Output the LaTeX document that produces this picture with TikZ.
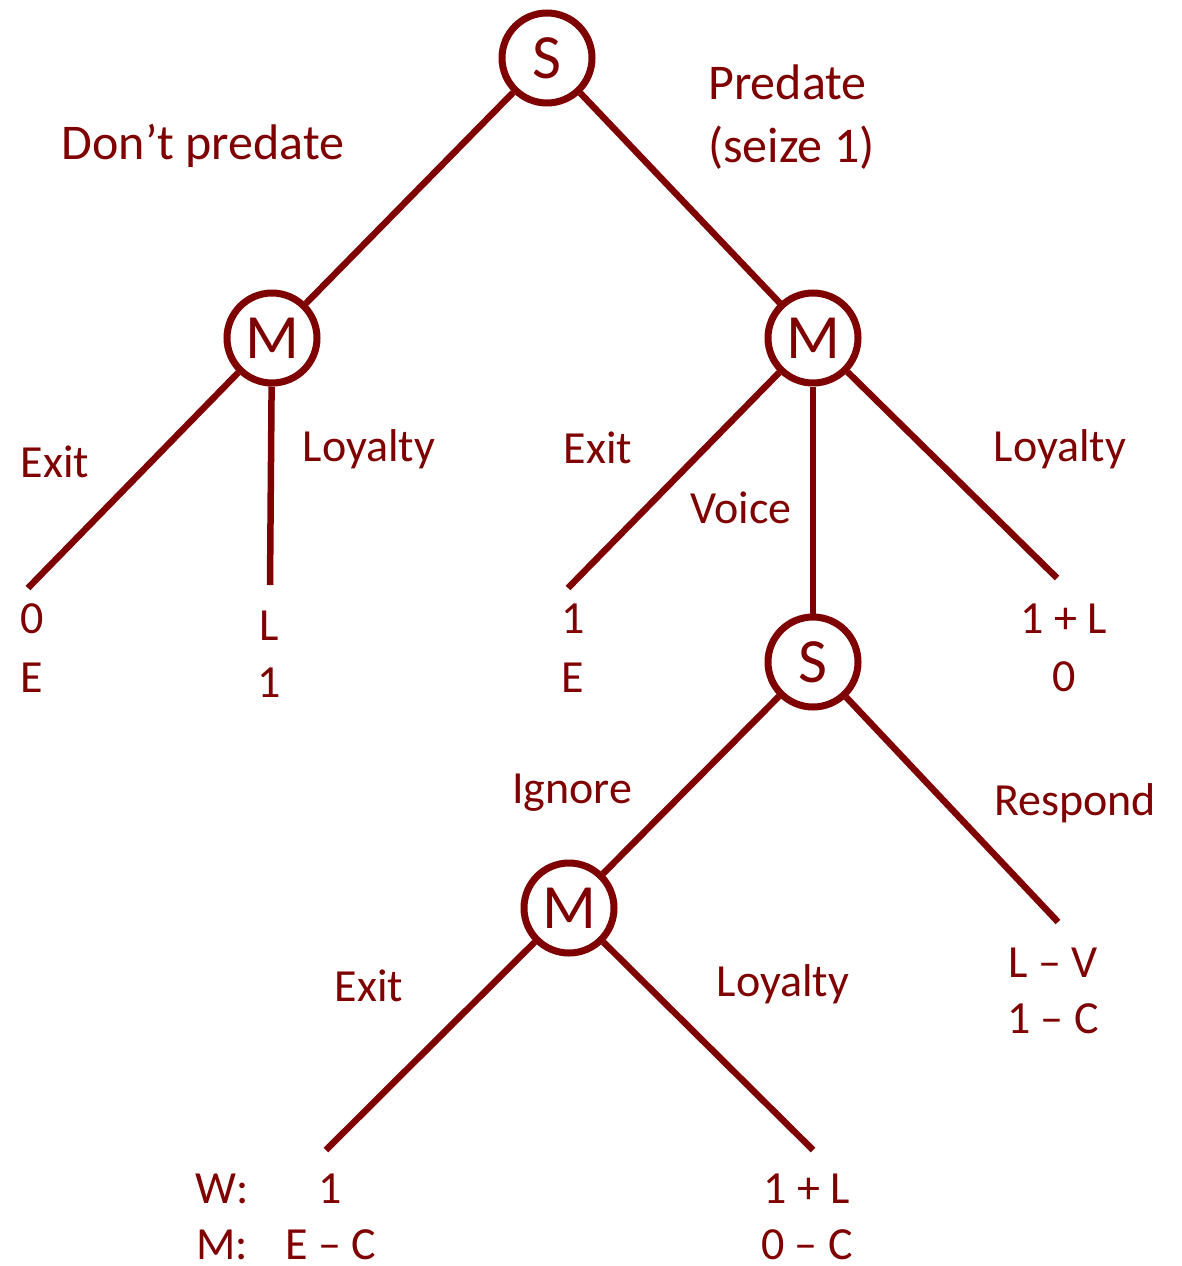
\documentclass[tikz,border=0pt]{standalone}
\usepackage{fontspec}
\setmainfont{Carlito}
\usepackage{tikz}
\usetikzlibrary{shapes,arrows}
\definecolor{maroon}{HTML}{7F0000}
\newcommand\bigtxt{\fontsize{50}{56}\selectfont}
\newcommand\midtxt{\fontsize{46}{52}\selectfont}
\newcommand\nodetxt{\fontsize{63}{70}\selectfont}

\begin{document}
\begin{tikzpicture}[x=1pt,y=-1pt,
  player/.style={circle,draw=maroon,line width=7pt,fill=white,minimum size=90pt,inner sep=0pt,text=maroon,font=\nodetxt},
  lbl/.style={text=maroon,font=\midtxt,anchor=base,inner sep=0pt},
  branch/.style={draw=maroon,line width=6.5pt}]
\useasboundingbox (0,0) rectangle (1181,1266);

% to place end points of the branches
\coordinate (e1) at (28,588);
\coordinate (l1) at (270,585);
\coordinate (e2) at (568,588);
\coordinate (l2) at (1057,578);
\coordinate (r3) at (1058,922);
\coordinate (e4) at (326,1150);
\coordinate (l4) at (813,1150);

% to draw the players
\node [player] (S1) at (547,58) {S};
\node [player] (M1) at (272,338) {M};
\node [player] (M2) at (813,338) {M};
\node [player] (S2) at (813,662) {S};
\node [player] (M3) at (569,908) {M};

% to draw the branches
\draw [branch] (S1) -- (M1);
\draw [branch] (S1) -- (M2);
\draw [branch] (M1) -- (e1);
\draw [branch] (M1) -- (l1);
\draw [branch] (M2) -- (e2);
\draw [branch] (M2) -- (S2);
\draw [branch] (M2) -- (l2);
\draw [branch] (S2) -- (M3);
\draw [branch] (S2) -- (r3);
\draw [branch] (M3) -- (e4);
\draw [branch] (M3) -- (l4);

% to write the moves
\node [lbl,font=\bigtxt] (dp) at (203,159) {Don't predate};
\node [lbl,font=\bigtxt,anchor=base west] (pr) at (708,99) {Predate};
\node [lbl,font=\bigtxt,anchor=base west] (sz) at (708,162) {(seize 1)};
\node [lbl] (x1) at (55,477) {Exit};
\node [lbl] (y1) at (369,461) {Loyalty};
\node [lbl] (x2) at (598,463) {Exit};
\node [lbl] (v2) at (741,523) {Voice};
\node [lbl] (y2) at (1060,461) {Loyalty};
\node [lbl] (ig) at (572,803) {Ignore};
\node [lbl] (rs) at (1075,815) {Respond};
\node [lbl] (x3) at (369,1001) {Exit};
\node [lbl] (y3) at (783,996) {Loyalty};

% to write the payoffs
\node [lbl] (p1a) at (32,633) {0};
\node [lbl] (p1b) at (32,692) {E};
\node [lbl] (p2a) at (269,640) {L};
\node [lbl] (p2b) at (269,697) {1};
\node [lbl] (p3a) at (573,633) {1};
\node [lbl] (p3b) at (573,692) {E};
\node [lbl] (p4a) at (1064,633) {1 + L};
\node [lbl] (p4b) at (1064,691) {0};
\node [lbl] (p5a) at (1053,977) {L -- V};
\node [lbl] (p5b) at (1053,1033) {1 -- C};
\node [lbl] (wl) at (222,1203) {W:};
\node [lbl] (ml) at (222,1259) {M:};
\node [lbl] (p6a) at (330,1203) {1};
\node [lbl] (p6b) at (331,1259) {E -- C};
\node [lbl] (p7a) at (807,1203) {1 + L};
\node [lbl] (p7b) at (807,1259) {0 -- C};
\end{tikzpicture}
\end{document}
